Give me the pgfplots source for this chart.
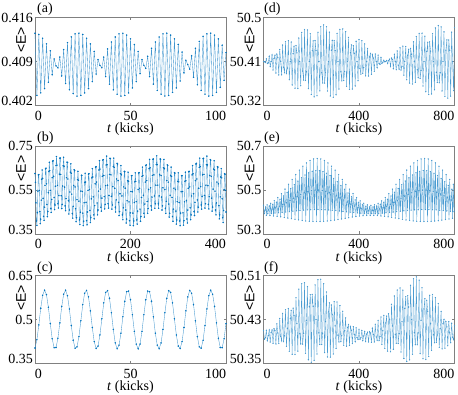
\documentclass[border=0pt]{standalone}
\usepackage{fontspec}
\setmainfont{Liberation Serif}
\newfontfamily\tnrfont{Liberation Serif}
\newfontfamily\arialfont{Liberation Sans}
\usepackage{pgfplots}
\pgfplotsset{compat=1.18}
\definecolor{mb}{rgb}{0,0.447,0.741}
\definecolor{framegray}{gray}{0.5}
\newcommand\fs{\tnrfont\fontsize{14}{16}\selectfont}

\pgfplotsset{
  panel/.style={
    scale only axis, width=191pt, height=88pt, anchor=south west,
    axis line style={framegray, line width=0.5pt},
    tick style={framegray, line width=0.5pt},
    tick align=inside, tick pos=both, major tick length=2.5pt,
    every tick label/.append style={font=\fs, text=black},
    xticklabel style={inner sep=0pt, yshift=-5pt},
    yticklabel style={inner sep=0pt, xshift=-2pt},
    ylabel={\arialfont\fontsize{14}{16}\selectfont <E>},
    ylabel style={at={(axis description cs:-0.073,0.745)}, anchor=center},
    xlabel={\textit{t} (kicks)},
    xlabel style={at={(axis description cs:0.5,0)}, anchor=north, inner sep=0pt, yshift=-17.5pt, font=\fs},
  },
  sig/.style={mb!75, line width=0.35pt, mark=*, mark size=0.55pt, mark options={fill=mb, draw=mb}},
  dense/.style={mb!70, line width=0.35pt, mark=*, mark size=0.4pt, mark options={fill=mb, draw=none}},
}

\begin{document}
\begin{tikzpicture}
\useasboundingbox (0,0) rectangle (458pt,394pt);

% (a)
\begin{axis}[panel, at={(35pt,288.5pt)},
  xmin=0, xmax=100, ymin=0.402, ymax=0.416,
  xtick={0,50,100}, xticklabels={{\makebox[0pt][l]{0}},{50},{\makebox[0pt][r]{100}}},
  ytick={0.402,0.409,0.416}, yticklabels={{\raisebox{4.5pt}[\height][\depth]{0.402}},{0.409},{0.416}}]
\addplot[sig] coordinates {(0,.4135)(1,.4036)(2,.4133)(3,.4040)(4,.4127)(5,.4047)(6,.4118)(7,.4057)(8,.4107)(9,.4069)(10,.4094)(11,.4083)(12,.4080)(13,.4097)(14,.4067)(15,.4109)(16,.4055)(17,.4120)(18,.4045)(19,.4129)(20,.4039)(21,.4134)(22,.4035)(23,.4135)(24,.4036)(25,.4133)(26,.4040)(27,.4127)(28,.4047)(29,.4118)(30,.4058)(31,.4106)(32,.4070)(33,.4093)(34,.4084)(35,.4080)(36,.4097)(37,.4066)(38,.4110)(39,.4054)(40,.4121)(41,.4045)(42,.4129)(43,.4038)(44,.4134)(45,.4035)(46,.4135)(47,.4036)(48,.4132)(49,.4040)(50,.4126)(51,.4048)(52,.4117)(53,.4058)(54,.4106)(55,.4071)(56,.4093)(57,.4084)(58,.4079)(59,.4098)(60,.4066)(61,.4111)(62,.4054)(63,.4121)(64,.4044)(65,.4129)(66,.4038)(67,.4134)(68,.4035)(69,.4135)(70,.4036)(71,.4132)(72,.4041)(73,.4126)(74,.4048)(75,.4117)(76,.4059)(77,.4105)(78,.4072)(79,.4092)(80,.4085)(81,.4078)(82,.4099)(83,.4065)(84,.4111)(85,.4053)(86,.4122)(87,.4044)(88,.4130)(89,.4038)(90,.4134)(91,.4035)(92,.4135)(93,.4036)(94,.4132)(95,.4041)(96,.4126)(97,.4049)(98,.4116)(99,.4060)(100,.4104)};
\end{axis}

% (b)
\begin{axis}[panel, at={(35pt,160pt)},
  xmin=0, xmax=400, ymin=0.35, ymax=0.75,
  xtick={0,200,400}, xticklabels={{\makebox[0pt][l]{0}},{200},{\makebox[0pt][r]{400}}},
  ytick={0.35,0.55,0.75}, yticklabels={{\raisebox{4.5pt}[\height][\depth]{0.35}},{0.55},{0.75}}]
\addplot[sig] coordinates {(0,.625)(1,.585)(2,.492)(3,.409)(4,.389)(5,.447)(6,.545)(7,.619)(8,.620)(9,.548)(10,.452)(11,.397)(12,.418)(13,.504)(14,.599)
(15,.641)(16,.603)(17,.512)(18,.430)(19,.412)(20,.472)(21,.571)(22,.646)(23,.649)(24,.578)(25,.484)(26,.429)(27,.452)(28,.538)(29,.634)
(30,.676)(31,.638)(32,.548)(33,.466)(34,.448)(35,.507)(36,.606)(37,.681)(38,.683)(39,.612)(40,.516)(41,.461)(42,.482)(43,.567)(44,.661)
(45,.702)(46,.663)(47,.571)(48,.487)(49,.468)(50,.525)(51,.622)(52,.695)(53,.695)(54,.621)(55,.524)(56,.466)(57,.485)(58,.568)(59,.660)
(60,.699)(61,.658)(62,.563)(63,.478)(64,.456)(65,.511)(66,.606)(67,.677)(68,.675)(69,.600)(70,.501)(71,.441)(72,.459)(73,.541)(74,.631)
(75,.669)(76,.626)(77,.531)(78,.444)(79,.422)(80,.476)(81,.571)(82,.642)(83,.639)(84,.564)(85,.465)(86,.406)(87,.424)(88,.506)(89,.597)
(90,.635)(91,.594)(92,.499)(93,.414)(94,.393)(95,.449)(96,.545)(97,.617)(98,.616)(99,.543)(100,.445)(101,.388)(102,.408)(103,.492)(104,.585)
(105,.626)(106,.586)(107,.494)(108,.411)(109,.392)(110,.450)(111,.548)(112,.622)(113,.624)(114,.552)(115,.457)(116,.402)(117,.424)(118,.510)(119,.605)
(120,.647)(121,.609)(122,.519)(123,.437)(124,.419)(125,.479)(126,.578)(127,.654)(128,.656)(129,.586)(130,.491)(131,.437)(132,.459)(133,.545)(134,.641)
(135,.683)(136,.645)(137,.554)(138,.472)(139,.454)(140,.513)(141,.612)(142,.686)(143,.688)(144,.616)(145,.520)(146,.464)(147,.485)(148,.570)(149,.664)
(150,.704)(151,.665)(152,.572)(153,.488)(154,.468)(155,.525)(156,.621)(157,.694)(158,.693)(159,.619)(160,.521)(161,.463)(162,.482)(163,.565)(164,.656)
(165,.695)(166,.653)(167,.558)(168,.472)(169,.450)(170,.505)(171,.600)(172,.671)(173,.668)(174,.593)(175,.494)(176,.434)(177,.452)(178,.533)(179,.624)
(180,.661)(181,.619)(182,.523)(183,.437)(184,.415)(185,.469)(186,.564)(187,.635)(188,.633)(189,.558)(190,.459)(191,.400)(192,.418)(193,.501)(194,.592)
(195,.631)(196,.590)(197,.496)(198,.411)(199,.390)(200,.446)(201,.543)(202,.615)(203,.615)(204,.542)(205,.445)(206,.388)(207,.409)(208,.493)(209,.587)
(210,.628)(211,.589)(212,.497)(213,.414)(214,.395)(215,.454)(216,.552)(217,.627)(218,.629)(219,.558)(220,.463)(221,.408)(222,.430)(223,.516)(224,.612)
(225,.654)(226,.616)(227,.526)(228,.444)(229,.427)(230,.486)(231,.586)(232,.661)(233,.664)(234,.593)(235,.498)(236,.444)(237,.466)(238,.552)(239,.647)
(240,.689)(241,.651)(242,.560)(243,.478)(244,.459)(245,.518)(246,.616)(247,.690)(248,.691)(249,.619)(250,.523)(251,.467)(252,.487)(253,.572)(254,.665)
(255,.705)(256,.665)(257,.572)(258,.487)(259,.467)(260,.523)(261,.619)(262,.691)(263,.690)(264,.616)(265,.518)(266,.459)(267,.478)(268,.560)(269,.651)
(270,.689)(271,.647)(272,.552)(273,.466)(274,.444)(275,.498)(276,.593)(277,.664)(278,.661)(279,.586)(280,.486)(281,.427)(282,.444)(283,.526)(284,.616)
(285,.654)(286,.612)(287,.516)(288,.430)(289,.408)(290,.463)(291,.558)(292,.629)(293,.627)(294,.552)(295,.454)(296,.395)(297,.414)(298,.497)(299,.589)
(300,.628)(301,.587)(302,.493)(303,.409)(304,.388)(305,.445)(306,.542)(307,.615)(308,.615)(309,.543)(310,.446)(311,.390)(312,.411)(313,.496)(314,.590)
(315,.631)(316,.592)(317,.501)(318,.418)(319,.400)(320,.459)(321,.558)(322,.633)(323,.635)(324,.564)(325,.469)(326,.415)(327,.437)(328,.523)(329,.619)
(330,.661)(331,.624)(332,.533)(333,.452)(334,.434)(335,.494)(336,.593)(337,.668)(338,.671)(339,.600)(340,.505)(341,.450)(342,.472)(343,.558)(344,.653)
(345,.695)(346,.656)(347,.565)(348,.482)(349,.463)(350,.521)(351,.619)(352,.693)(353,.694)(354,.621)(355,.525)(356,.468)(357,.488)(358,.572)(359,.665)
(360,.704)(361,.664)(362,.570)(363,.485)(364,.464)(365,.520)(366,.616)(367,.688)(368,.686)(369,.612)(370,.513)(371,.454)(372,.472)(373,.554)(374,.645)
(375,.683)(376,.641)(377,.545)(378,.459)(379,.437)(380,.491)(381,.586)(382,.656)(383,.654)(384,.578)(385,.479)(386,.419)(387,.437)(388,.519)(389,.609)
(390,.647)(391,.605)(392,.510)(393,.424)(394,.402)(395,.457)(396,.552)(397,.624)(398,.622)(399,.548)(400,.450)};
\end{axis}

% (c)
\begin{axis}[panel, at={(35pt,30.5pt)},
  xmin=0, xmax=100, ymin=0.35, ymax=0.65,
  xtick={0,50,100}, xticklabels={{\makebox[0pt][l]{0}},{50},{\makebox[0pt][r]{100}}},
  ytick={0.35,0.5,0.65}, yticklabels={{\raisebox{4.5pt}[\height][\depth]{0.35}},{0.5},{0.65}}]
\addplot[sig] coordinates {(0,.4027)(1,.4309)(2,.4816)(3,.5383)(4,.5825)(5,.6000)(6,.5850)(7,.5420)(8,.4862)(9,.4344)(10,.4038)(11,.4045)(12,.4361)(13,.4885)(14,.5446)(15,.5863)(16,.5999)(17,.5812)(18,.5359)(19,.4794)(20,.4293)(21,.4022)(22,.4068)(23,.4416)(24,.4954)(25,.5507)(26,.5896)(27,.5993)(28,.5770)(29,.5295)(30,.4727)(31,.4246)(32,.4010)(33,.4095)(34,.4473)(35,.5023)(36,.5565)(37,.5924)(38,.5983)(39,.5724)(40,.5229)(41,.4660)(42,.4202)(43,.4002)(44,.4126)(45,.4534)(46,.5092)(47,.5621)(48,.5948)(49,.5969)(50,.5675)(51,.5162)(52,.4596)(53,.4162)(54,.4000)(55,.4162)(56,.4596)(57,.5161)(58,.5673)(59,.5968)(60,.5948)(61,.5622)(62,.5092)(63,.4534)(64,.4126)(65,.4002)(66,.4202)(67,.4660)(68,.5229)(69,.5724)(70,.5983)(71,.5924)(72,.5565)(73,.5023)(74,.4473)(75,.4095)(76,.4010)(77,.4246)(78,.4727)(79,.5296)(80,.5770)(81,.5993)(82,.5896)(83,.5507)(84,.4954)(85,.4416)(86,.4068)(87,.4022)(88,.4293)(89,.4793)(90,.5361)(91,.5812)(92,.5999)(93,.5863)(94,.5446)(95,.4885)(96,.4361)(97,.4045)(98,.4038)(99,.4344)(100,.4862)};
\end{axis}

% (d)
\begin{axis}[panel, at={(263.5pt,288.5pt)},
  xmin=0, xmax=800, ymin=50.32, ymax=50.5,
  xtick={0,400,800}, xticklabels={{\makebox[0pt][l]{0}},{400},{\makebox[0pt][r]{800}}},
  ytick={50.32,50.41,50.5}, yticklabels={{\raisebox{4.5pt}[\height][\depth]{50.32}},{50.41},{50.5}}]
\addplot[dense] coordinates {(0,50.4100)(4,50.4094)(8,50.4078)(12,50.4155)(16,50.4057)(20,50.4072)(24,50.4205)(28,50.3996)(32,50.4100)(36,50.4233)(40,50.3926)(44,50.4162)(48,50.4228)(52,50.3864)(56,50.4249)(60,50.4184)(64,50.3826)(68,50.4347)(72,50.4100)(76,50.3826)(80,50.4437)(84,50.3985)(88,50.3873)(92,50.4503)(96,50.3854)(100,50.3966)(104,50.4526)(108,50.3726)(112,50.4100)(116,50.4497)(120,50.3620)(124,50.4260)(128,50.4413)(132,50.3555)(136,50.4428)(140,50.4276)(144,50.3547)(148,50.4580)(152,50.4100)(156,50.3603)(160,50.4695)(164,50.3904)(168,50.3721)(172,50.4754)(176,50.3710)(180,50.3893)(184,50.4746)(188,50.3544)(192,50.4100)(196,50.4667)(200,50.3427)(204,50.4320)(208,50.4523)(212,50.3376)(216,50.4528)(220,50.4326)(224,50.3400)(228,50.4698)(232,50.4100)(236,50.3498)(240,50.4810)(244,50.3869)(248,50.3659)(252,50.4850)(256,50.3659)(260,50.3868)(264,50.4812)(268,50.3495)(272,50.4100)(276,50.4702)(280,50.3395)(284,50.4328)(288,50.4532)(292,50.3370)(296,50.4527)(300,50.4323)(304,50.3419)(308,50.4675)(312,50.4100)(316,50.3536)(320,50.4757)(324,50.3889)(328,50.3703)(332,50.4767)(336,50.3713)(340,50.3899)(344,50.4709)(348,50.3590)(352,50.4100)(356,50.4593)(360,50.3531)(364,50.4281)(368,50.4439)(372,50.3536)(376,50.4424)(380,50.4266)(384,50.3600)(388,50.4514)(392,50.4100)(396,50.3708)(400,50.4547)(404,50.3959)(408,50.3841)(412,50.4526)(416,50.3859)(420,50.3978)(424,50.4460)(428,50.3806)(432,50.4100)(436,50.4367)(440,50.3802)(444,50.4192)(448,50.4264)(452,50.3838)(456,50.4244)(460,50.4170)(464,50.3901)(468,50.4255)(472,50.4100)(476,50.3974)(480,50.4231)(484,50.4063)(488,50.4040)(492,50.4183)(496,50.4062)(500,50.4086)(504,50.4126)(508,50.4093)(512,50.4100)(516,50.4122)(520,50.4056)(524,50.4120)(528,50.4149)(532,50.3999)(536,50.4170)(540,50.4143)(544,50.3952)(548,50.4241)(552,50.4100)(556,50.3930)(560,50.4316)(564,50.4024)(568,50.3946)(572,50.4380)(576,50.3926)(580,50.4003)(584,50.4414)(588,50.3820)(592,50.4100)(596,50.4407)(600,50.3725)(604,50.4227)(608,50.4350)(612,50.3659)(616,50.4368)(620,50.4245)(624,50.3640)(628,50.4503)(632,50.4100)(636,50.3675)(640,50.4612)(644,50.3930)(648,50.3769)(652,50.4675)(656,50.3755)(660,50.3915)(664,50.4680)(668,50.3599)(672,50.4100)(676,50.4618)(680,50.3482)(684,50.4303)(688,50.4492)(692,50.3425)(696,50.4502)(700,50.4313)(704,50.3436)(708,50.4670)(712,50.4100)(716,50.3521)(720,50.4786)(724,50.3876)(728,50.3670)(732,50.4834)(736,50.3666)(740,50.3871)(744,50.4807)(748,50.3497)(752,50.4100)(756,50.4706)(760,50.3387)(764,50.4332)(768,50.4541)(772,50.3351)(776,50.4540)(780,50.4331)(784,50.3392)(788,50.4701)(792,50.4100)(796,50.3504)(800,50.4797)};
\end{axis}

% (e)
\begin{axis}[panel, at={(263.5pt,160pt)},
  xmin=0, xmax=800, ymin=50.3, ymax=50.7,
  xtick={0,400,800}, xticklabels={{\makebox[0pt][l]{0}},{400},{\makebox[0pt][r]{800}}},
  ytick={50.3,50.5,50.7}, yticklabels={{\raisebox{4.5pt}[\height][\depth]{50.3}},{50.5},{50.7}}]
\addplot[dense] coordinates {(0,50.4303)(3,50.3934)(6,50.4079)(9,50.4227)(12,50.3845)
(15,50.4326)(18,50.3937)(21,50.4097)(24,50.4267)(27,50.3837)
(30,50.4395)(33,50.3944)(36,50.4134)(39,50.4341)(42,50.3823)
(45,50.4507)(48,50.3953)(51,50.4189)(54,50.4446)(57,50.3804)
(60,50.4656)(63,50.3966)(66,50.4259)(69,50.4577)(72,50.3781)
(75,50.4836)(78,50.3982)(81,50.4342)(84,50.4730)(87,50.3755)
(90,50.5040)(93,50.3999)(96,50.4432)(99,50.4896)(102,50.3726)
(105,50.5258)(108,50.4017)(111,50.4528)(114,50.5070)(117,50.3697)
(120,50.5481)(123,50.4036)(126,50.4624)(129,50.5242)(132,50.3668)
(135,50.5699)(138,50.4054)(141,50.4716)(144,50.5406)(147,50.3640)
(150,50.5903)(153,50.4071)(156,50.4800)(159,50.5555)(162,50.3616)
(165,50.6083)(168,50.4085)(171,50.4873)(174,50.5682)(177,50.3595)
(180,50.6232)(183,50.4097)(186,50.4931)(189,50.5781)(192,50.3579)
(195,50.6344)(198,50.4105)(201,50.4972)(204,50.5848)(207,50.3569)
(210,50.6413)(213,50.4110)(216,50.4994)(219,50.5881)(222,50.3565)
(225,50.6436)(228,50.4112)(231,50.4996)(234,50.5877)(237,50.3566)
(240,50.6413)(243,50.4109)(246,50.4978)(249,50.5837)(252,50.3574)
(255,50.6344)(258,50.4102)(261,50.4941)(264,50.5763)(267,50.3588)
(270,50.6232)(273,50.4093)(276,50.4886)(279,50.5658)(282,50.3607)
(285,50.6083)(288,50.4080)(291,50.4816)(294,50.5527)(297,50.3630)
(300,50.5903)(303,50.4064)(306,50.4733)(309,50.5374)(312,50.3656)
(315,50.5699)(318,50.4047)(321,50.4643)(324,50.5208)(327,50.3685)
(330,50.5481)(333,50.4029)(336,50.4547)(339,50.5034)(342,50.3714)
(345,50.5258)(348,50.4010)(351,50.4451)(354,50.4862)(357,50.3743)
(360,50.5040)(363,50.3992)(366,50.4359)(369,50.4698)(372,50.3771)
(375,50.4836)(378,50.3975)(381,50.4275)(384,50.4549)(387,50.3795)
(390,50.4656)(393,50.3961)(396,50.4202)(399,50.4422)(402,50.3816)
(405,50.4507)(408,50.3949)(411,50.4144)(414,50.4323)(417,50.3832)
(420,50.4395)(423,50.3941)(426,50.4103)(429,50.4256)(432,50.3842)
(435,50.4326)(438,50.3936)(441,50.4081)(444,50.4223)(447,50.3846)
(450,50.4303)(453,50.3934)(456,50.4079)(459,50.4227)(462,50.3845)
(465,50.4326)(468,50.3937)(471,50.4097)(474,50.4267)(477,50.3837)
(480,50.4395)(483,50.3944)(486,50.4134)(489,50.4341)(492,50.3823)
(495,50.4507)(498,50.3953)(501,50.4189)(504,50.4446)(507,50.3804)
(510,50.4656)(513,50.3966)(516,50.4259)(519,50.4577)(522,50.3781)
(525,50.4836)(528,50.3982)(531,50.4342)(534,50.4730)(537,50.3755)
(540,50.5040)(543,50.3999)(546,50.4432)(549,50.4896)(552,50.3726)
(555,50.5258)(558,50.4017)(561,50.4528)(564,50.5070)(567,50.3697)
(570,50.5481)(573,50.4036)(576,50.4624)(579,50.5242)(582,50.3668)
(585,50.5699)(588,50.4054)(591,50.4716)(594,50.5406)(597,50.3640)
(600,50.5903)(603,50.4071)(606,50.4800)(609,50.5555)(612,50.3616)
(615,50.6083)(618,50.4085)(621,50.4873)(624,50.5682)(627,50.3595)
(630,50.6232)(633,50.4097)(636,50.4931)(639,50.5781)(642,50.3579)
(645,50.6344)(648,50.4105)(651,50.4972)(654,50.5848)(657,50.3569)
(660,50.6413)(663,50.4110)(666,50.4994)(669,50.5881)(672,50.3565)
(675,50.6436)(678,50.4112)(681,50.4996)(684,50.5877)(687,50.3566)
(690,50.6413)(693,50.4109)(696,50.4978)(699,50.5837)(702,50.3574)
(705,50.6344)(708,50.4102)(711,50.4941)(714,50.5763)(717,50.3588)
(720,50.6232)(723,50.4093)(726,50.4886)(729,50.5658)(732,50.3607)
(735,50.6083)(738,50.4080)(741,50.4816)(744,50.5527)(747,50.3630)
(750,50.5903)(753,50.4064)(756,50.4733)(759,50.5374)(762,50.3656)
(765,50.5699)(768,50.4047)(771,50.4643)(774,50.5208)(777,50.3685)
(780,50.5481)(783,50.4029)(786,50.4547)(789,50.5034)(792,50.3714)
(795,50.5258)(798,50.4010)(801,50.4451)};
\end{axis}

% (f)
\begin{axis}[panel, at={(263.5pt,30.5pt)},
  xmin=0, xmax=800, ymin=50.35, ymax=50.51,
  xtick={0,400,800}, xticklabels={{\makebox[0pt][l]{0}},{400},{\makebox[0pt][r]{800}}},
  ytick={50.35,50.43,50.51}, yticklabels={{\raisebox{4.5pt}[\height][\depth]{50.35}},{50.43},{50.51}}]
\addplot[dense] coordinates {(0,50.4100)(4,50.3941)(8,50.3969)(12,50.4103)(16,50.3915)(20,50.4007)(24,50.4108)(28,50.3890)(32,50.4060)(36,50.4109)(40,50.3867)(44,50.4133)(48,50.4094)(52,50.3855)(56,50.4222)(60,50.4057)(64,50.3866)(68,50.4320)(72,50.3993)(76,50.3912)(80,50.4411)(84,50.3906)(88,50.4003)(92,50.4477)(96,50.3811)(100,50.4139)(104,50.4500)(108,50.3724)(112,50.4313)(116,50.4466)(120,50.3668)(124,50.4507)(128,50.4372)(132,50.3664)(136,50.4696)(140,50.4225)(144,50.3725)(148,50.4852)(152,50.4043)(156,50.3857)(160,50.4949)(164,50.3852)(168,50.4050)(172,50.4967)(176,50.3685)(180,50.4285)(184,50.4899)(188,50.3568)(192,50.4532)(196,50.4751)(200,50.3522)(204,50.4757)(208,50.4541)(212,50.3558)(216,50.4929)(220,50.4298)(224,50.3672)(228,50.5024)(232,50.4057)(236,50.3845)(240,50.5032)(244,50.3847)(248,50.4052)(252,50.4951)(256,50.3697)(260,50.4260)(264,50.4800)(268,50.3620)(272,50.4439)(276,50.4602)(280,50.3615)(284,50.4565)(288,50.4386)(292,50.3673)(296,50.4625)(300,50.4183)(304,50.3774)(308,50.4618)(312,50.4016)(316,50.3892)(320,50.4554)(324,50.3898)(328,50.4005)(332,50.4450)(336,50.3833)(340,50.4095)(344,50.4328)(348,50.3814)(352,50.4152)(356,50.4208)(360,50.3829)(364,50.4175)(368,50.4104)(372,50.3862)(376,50.4170)(380,50.4026)(384,50.3901)(388,50.4149)(392,50.3973)(396,50.3938)(400,50.4122)(404,50.3940)(408,50.3970)(412,50.4099)(416,50.3919)(420,50.4000)(424,50.4082)(428,50.3903)(432,50.4035)(436,50.4070)(440,50.3892)(444,50.4082)(448,50.4053)(452,50.3885)(456,50.4141)(460,50.4026)(464,50.3893)(468,50.4213)(472,50.3982)(476,50.3924)(480,50.4285)(484,50.3920)(488,50.3990)(492,50.4345)(496,50.3847)(500,50.4095)(504,50.4375)(508,50.3775)(512,50.4237)(516,50.4362)(520,50.3724)(524,50.4404)(528,50.4298)(532,50.3713)(536,50.4576)(540,50.4183)(544,50.3759)(548,50.4728)(552,50.4032)(556,50.3869)(560,50.4835)(564,50.3864)(568,50.4041)(572,50.4874)(576,50.3708)(580,50.4260)(584,50.4834)(588,50.3591)(592,50.4501)(596,50.4714)(600,50.3539)(604,50.4732)(608,50.4527)(612,50.3565)(616,50.4922)(620,50.4298)(624,50.3670)(628,50.5041)(632,50.4059)(636,50.3841)(640,50.5075)(644,50.3842)(648,50.4057)(652,50.5016)(656,50.3678)(660,50.4285)(664,50.4877)(668,50.3586)(672,50.4492)(676,50.4679)(680,50.3571)(684,50.4650)(688,50.4451)(692,50.3628)(696,50.4740)(700,50.4225)(704,50.3738)(708,50.4754)(712,50.4029)(716,50.3877)(720,50.4699)(724,50.3883)(728,50.4019)(732,50.4590)(736,50.3796)(740,50.4139)(744,50.4449)(748,50.3765)(752,50.4222)(756,50.4301)(760,50.3779)(764,50.4262)(768,50.4165)(772,50.3823)(776,50.4261)(780,50.4057)(784,50.3878)(788,50.4232)(792,50.3980)(796,50.3931)(800,50.4185)};
\end{axis}

\node[anchor=base west, inner sep=0pt, font=\fs] at (37pt,381.5pt) {(a)};
\node[anchor=base west, inner sep=0pt, font=\fs] at (37pt,252pt) {(b)};
\node[anchor=base west, inner sep=0pt, font=\fs] at (37pt,122.5pt) {(c)};
\node[anchor=base west, inner sep=0pt, font=\fs] at (264pt,381.5pt) {(d)};
\node[anchor=base west, inner sep=0pt, font=\fs] at (264pt,252pt) {(e)};
\node[anchor=base west, inner sep=0pt, font=\fs] at (264pt,122.5pt) {(f)};
\end{tikzpicture}
\end{document}
